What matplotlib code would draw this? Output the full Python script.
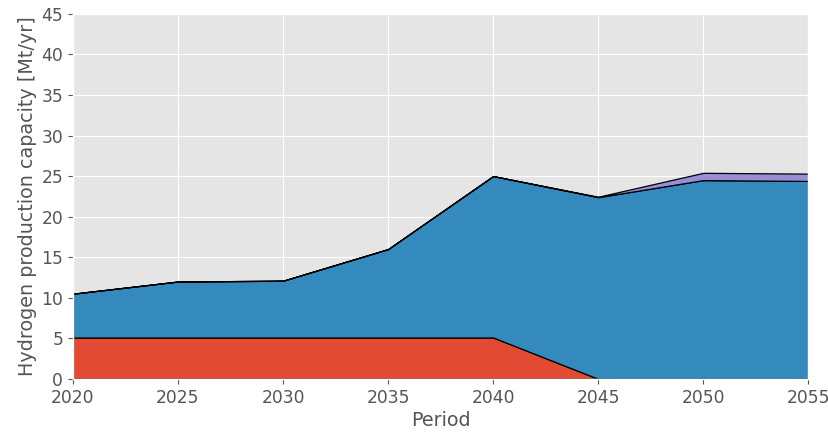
import matplotlib
matplotlib.use('Agg')
import matplotlib.pyplot as plt
import numpy as np

plt.style.use('ggplot')

# capacity by technology, Mt/yr
periods = [2020, 2025, 2030, 2035, 2040, 2045, 2050, 2055]
cap_a = [5.1, 5.1, 5.1, 5.1, 5.1, 0.0, 0.0, 0.0]
cap_b = [5.4, 6.9, 7.0, 10.9, 19.9, 22.4, 24.5, 24.4]
cap_c = [0.0, 0.0, 0.0, 0.0, 0.0, 0.05, 0.9, 0.9]

fig, ax = plt.subplots(figsize=(8.29, 4.32), dpi=100)
fig.subplots_adjust(left=0.088, right=0.975, top=0.968, bottom=0.123)

ax.stackplot(periods, cap_a, cap_b, cap_c,
             colors=['#E24A33', '#348ABD', '#988ED5'],
             edgecolor='black', linewidth=0.9)

ax.set_xlim(2020, 2055)
ax.set_ylim(0, 45)
ax.set_xticks(periods)
ax.set_yticks(np.arange(0, 46, 5))
ax.tick_params(labelsize=12.3, colors='#555555')
ax.set_xlabel('Period', fontsize=13.8, color='#555555', labelpad=3)
ax.set_ylabel('Hydrogen production capacity [Mt/yr]', fontsize=13.8, color='#555555', labelpad=3)

plt.savefig('out.png', dpi=100)
